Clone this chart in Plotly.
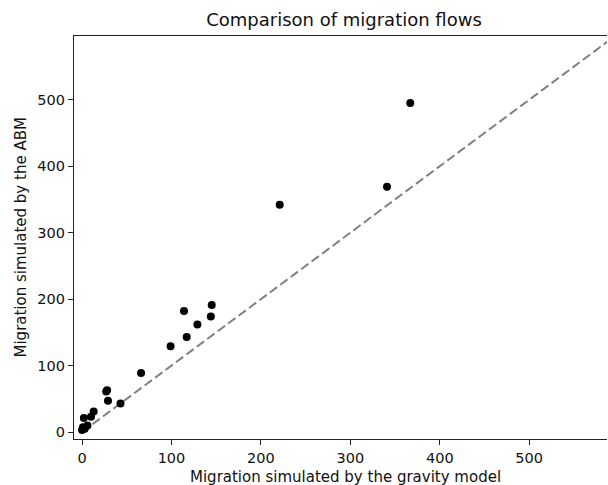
import plotly.graph_objects as go

gravity = [367, 341, 221, 145, 144, 114, 117, 129, 99, 66, 43, 28, 27, 29, 13, 10, 2, 6, 1, 0, 3]
abm = [495, 369, 342, 191, 174, 182, 143, 162, 129, 89, 43, 63, 61, 47, 31, 23, 21, 10, 7, 3, 5]
diag = [0, 620]
x_ticks = [0, 100, 200, 300, 400, 500]
y_ticks = [0, 100, 200, 300, 400, 500]

W, H = 608, 485
L, R, T, B = 74, 1, 36, 46
pw = W - L - R

fig = go.Figure()
fig.add_trace(go.Scatter(x=diag, y=diag, mode="lines",
                         line=dict(color="#808080", width=2, dash="9px,4px"),
                         showlegend=False, hoverinfo="skip"))
fig.add_trace(go.Scatter(x=gravity, y=abm, mode="markers",
                         marker=dict(color="black", size=8),
                         showlegend=False))

font = "DejaVu Sans"
fig.update_layout(
    width=W, height=H,
    margin=dict(l=L, r=R, t=T, b=B, autoexpand=False),
    paper_bgcolor="white", plot_bgcolor="white",
    font=dict(family=font, size=14.5, color="#111111"),
    title=dict(text="Comparison of migration flows", x=344 / W,
               xanchor="center", y=1 - 20 / H, yanchor="middle",
               font=dict(size=18, family=font, color="#111111")),
    xaxis=dict(range=[-9, 587], tickvals=x_ticks, showgrid=False, zeroline=False,
               showline=True, linecolor="#222222", linewidth=1.2, mirror=True,
               ticks="outside", ticklen=5, tickcolor="#222222", automargin=False,
               tickfont=dict(size=14.5)),
    yaxis=dict(range=[-10.5, 596], tickvals=y_ticks, showgrid=False, zeroline=False,
               showline=True, linecolor="#222222", linewidth=1.2, mirror=False,
               ticks="outside", ticklen=5, tickcolor="#222222", automargin=False,
               tickfont=dict(size=14.5)),
    annotations=[
        dict(text="Migration simulated by the gravity model", xref="paper", yref="paper",
             x=(345 - L) / pw, y=0, xanchor="center", yanchor="middle", yshift=-38,
             showarrow=False, font=dict(size=15, family=font, color="#111111")),
        dict(text="Migration simulated by the ABM", xref="paper", yref="paper",
             x=0, y=0.5, xanchor="center", yanchor="middle", xshift=-(L - 20),
             textangle=-90, showarrow=False,
             font=dict(size=15, family=font, color="#111111")),
    ],
)
fig.write_html("out.html", config={"displayModeBar": False},
               post_script="document.body.style.margin='0px';document.body.style.overflow='hidden';")
